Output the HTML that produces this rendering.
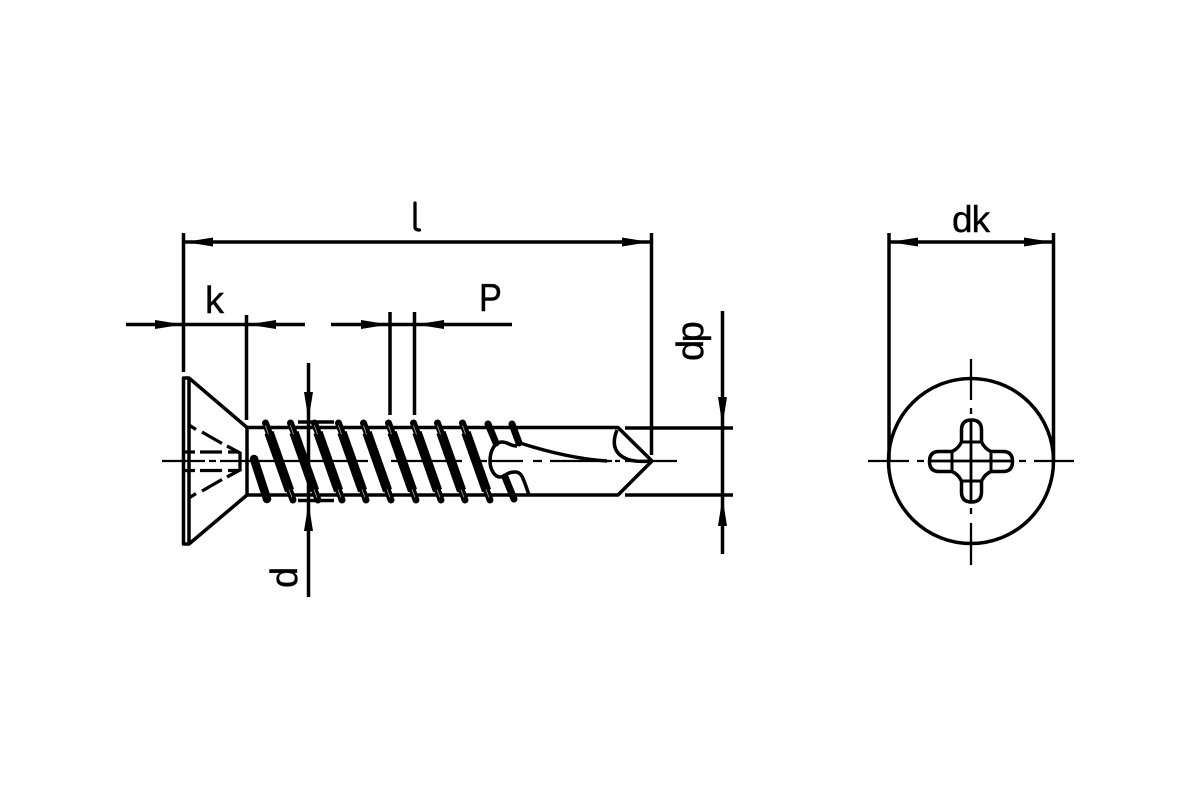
<!DOCTYPE html>
<html><head><meta charset="utf-8"><style>
html,body{margin:0;padding:0;background:#fff}
svg{display:block}
text{font-family:"Liberation Sans",sans-serif;font-size:37px;fill:#000;stroke:#000;stroke-width:.4}
</style></head><body>
<svg width="1200" height="800" viewBox="0 0 1200 800" xmlns="http://www.w3.org/2000/svg">
<defs>
<g id="th">
<path d="M2 5L22.500 63" stroke="#000" stroke-width="9.500" fill="none"/>
<path d="M-1.500 -4.500L3 8M21.500 60L26 72.500" stroke="#000" stroke-width="7" stroke-linecap="round" fill="none"/>
<path d="M-1.500 -2L1.500 7M22 62L25 70" stroke="#aaa" stroke-width=".8" fill="none"/>
</g>
</defs>
<rect width="1200" height="800" fill="#fff"/>
<!-- centre lines -->
<g fill="none" stroke="#000" stroke-width="2.300">
<path d="M162 461H205M209 461H216M220 461H262M262 461H368M391 461H462M473 461H487M490 461H523M533 461H542M550 461H603M607 461H612M615 461H620M625 461H677"/>
<path d="M868 461H909M917 461H924M1019 461H1026M1034 461H1074"/>
<path d="M971 359V400M971 408V414M971 508V514M971 523V565"/>
<path d="M930 461H1012M971 421V501" stroke-width="2.800"/>
</g>
<g fill="none" stroke="#000" stroke-width="3.500" stroke-linejoin="round">
<!-- dimension lines -->
<path d="M183.500 233V372M651.500 233V455M246.500 315V420M390 312V415M414.500 312V415"/>
<path d="M184 242H651M126 324.500H247M247 324.500H305M331 324.500H512"/>
<path d="M722.500 311V554M308.500 363V597"/>
<path d="M298 422H334M298 500.500H334M625 428H733M625 495H733"/>
<path d="M889 233V461M1053.500 233V461M889 242H1053"/>
<!-- head -->
<path d="M183.500 378V544H189V378ZM189 378L247 427.500V495L189 544"/>
<!-- shaft -->
<path d="M247 427.500H618L652 461L618 495H247"/>
<!-- slot -->
<path d="M517 446C510 446 508 442 502 442C494 442 490 452 490 461C490 470 495 477 500 477C505 477 506 472 515 472C522 472 523 478 529 495"/>
<path d="M520 443C545 451 575 459 607 461M617 430C613 440 613 449 620 455C628 462 640 462 650 461"/>
<!-- right view -->
<circle cx="971" cy="461" r="82.500"/>
<path d="M961.500 442V430Q961.500 420 971.500 420Q981.500 420 981.500 430V442Q985 449 991 451.500H1003Q1012.500 451.500 1012.500 461.500Q1012.500 471.500 1003 471.500H991Q985 474 981.500 481V492Q981.500 502 971.500 502Q961.500 502 961.500 492V481Q958 474 952 471.500H939Q929.500 471.500 929.500 461.500Q929.500 451.500 939 451.500H952Q958 449 961.500 442Z"/>
<path d="M961.500 442H981.500M961.500 481H981.500M952 451.500V471.500M991 451.500V471.500" stroke-width="3"/>
</g>
<!-- head dashes -->
<g fill="none" stroke="#000" stroke-width="3.300">
<path d="M189 425L196 429.500M202 432L222 443.500M227 446L240 453V470L227 477M222 479.500L202 491M196 493.500L189 498"/>
<path d="M185 452H195M200 452H222M228 452H238M185 470.500H195M200 470.500H222M228 470.500H238"/>
</g>
<!-- threads -->
<g>
<use href="#th" x="267" y="427.500"/><use href="#th" x="292" y="427.500"/><use href="#th" x="316" y="427.500"/>
<use href="#th" x="340" y="427.500"/><use href="#th" x="365" y="427.500"/><use href="#th" x="390" y="427.500"/>
<use href="#th" x="415" y="427.500"/><use href="#th" x="439" y="427.500"/><use href="#th" x="464" y="427.500"/>
</g>
<g fill="none" stroke="#000" stroke-linecap="round">
<path d="M254 459L267 499" stroke-width="8.500"/>
<path d="M505 477L514 499" stroke-width="7"/>
<path d="M488 424L496 443M512 424L519 443" stroke-width="7"/>
<path d="M415 203V227Q415 230 419.500 230" stroke-width="3.300"/>
</g>
<!-- arrowheads -->
<g fill="#000">
<path d="M185 242L213 237.500V246.500ZM650 242L622 237.500V246.500Z"/>
<path d="M183 324.500L155 320V329ZM248 324.500L276 320V329ZM389 324.500L361 320V329ZM416 324.500L444 320V329Z"/>
<path d="M722.500 426L718 397H727ZM722.500 497L718 526H727Z"/>
<path d="M308.500 420L304 392H313ZM308.500 503L304 531H313Z"/>
<path d="M890 242L918 237.500V246.500ZM1052 242L1024 237.500V246.500Z"/>
</g>
<text x="205" y="313" style="font-size:38px">k</text>
<text transform="translate(479,311) scale(.88,1)" style="font-size:39px">P</text>
<text x="952" y="232" style="font-size:37px" letter-spacing="-1">dk</text>
<text transform="translate(703,361) rotate(-90)" style="font-size:38px" letter-spacing="-2.500">dp</text>
<text transform="translate(297,588) rotate(-90)" style="font-size:38px">d</text>
</svg>
</body></html>
